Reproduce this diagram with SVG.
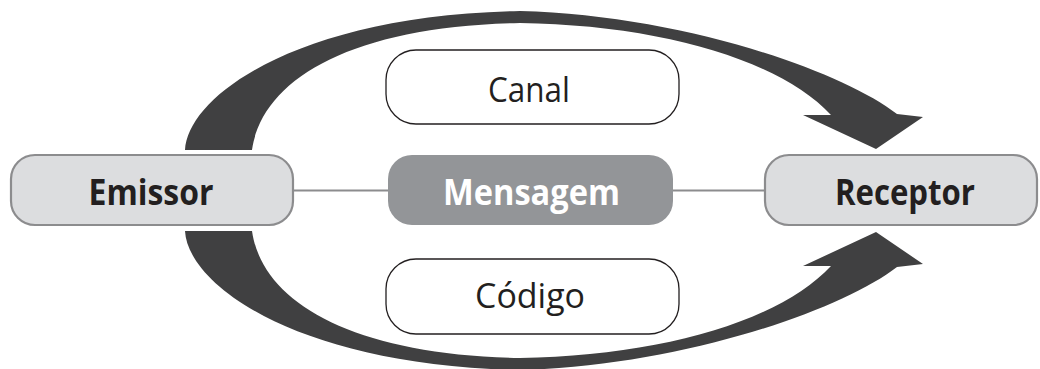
<svg xmlns="http://www.w3.org/2000/svg" width="1040" height="369" viewBox="0 0 1040 369">
  <style>
    .end { fill: #dcdddf; stroke: #8c8c8e; stroke-width: 2.2; }
    .msg { fill: #939598; }
    .aux { fill: #ffffff; stroke: #231f20; stroke-width: 1.3; }
    .link { stroke: #8c8c8e; stroke-width: 2; fill: none; }
    .flow { fill: #404041; }
    .bold { font-family: "Open Sans", "Noto Sans", "Liberation Sans", sans-serif; font-weight: 700; font-size: 36px; text-anchor: middle; fill: #231f20; }
    .reg { font-family: "Open Sans", "Noto Sans", "Liberation Sans", sans-serif; font-weight: 400; font-size: 35px; text-anchor: middle; fill: #231f20; }
  </style>
  <defs>
    <!-- curved arrow from the sender over to the receiver -->
    <path id="curve" d="M 185,150 C 188,95 300,15 520,11 C 680,15 840,70 897,114 L 923,117 L 876,149 L 803,115 L 831,115 C 780,60 660,25 520,23 C 350,26 262,80 252,150 Z"/>
  </defs>

  <g id="connectors">
    <use href="#curve" class="flow"/>
    <use href="#curve" class="flow" transform="matrix(1 0 0 -1 0 381)"/>
    <line class="link" x1="293" y1="190.5" x2="388" y2="190.5"/>
    <line class="link" x1="673" y1="190.5" x2="765" y2="190.5"/>
  </g>

  <g id="emissor">
    <rect class="end" x="11" y="155" width="282" height="70" rx="24"/>
    <text class="bold" x="151" y="205" textLength="125" lengthAdjust="spacingAndGlyphs">Emissor</text>
  </g>

  <g id="mensagem">
    <rect class="msg" x="388" y="155" width="285" height="70" rx="24"/>
    <text class="bold" x="531.5" y="205" textLength="177" lengthAdjust="spacingAndGlyphs" style="fill:#ffffff">Mensagem</text>
  </g>

  <g id="receptor">
    <rect class="end" x="765" y="155" width="272" height="70" rx="24"/>
    <text class="bold" x="905" y="205" textLength="140" lengthAdjust="spacingAndGlyphs">Receptor</text>
  </g>

  <g id="canal">
    <rect class="aux" x="386" y="50" width="293" height="74" rx="30"/>
    <text class="reg" x="529" y="102" textLength="82" lengthAdjust="spacingAndGlyphs">Canal</text>
  </g>

  <g id="codigo">
    <rect class="aux" x="386" y="259" width="293" height="75" rx="30"/>
    <text class="reg" x="530" y="308" textLength="110" lengthAdjust="spacingAndGlyphs">Código</text>
  </g>
</svg>
